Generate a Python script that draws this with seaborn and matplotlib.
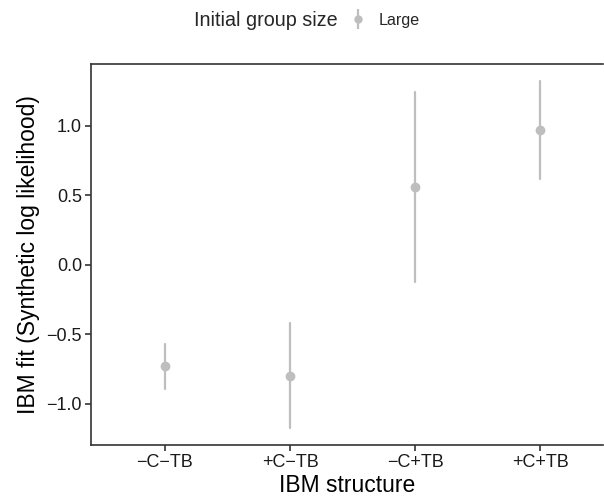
import numpy as np
import pandas as pd
import matplotlib
matplotlib.use("Agg")
import matplotlib.pyplot as plt
import seaborn as sns
from matplotlib.lines import Line2D
from matplotlib.legend_handler import HandlerTuple

structures = ["\u2212C\u2212TB", "+C\u2212TB", "\u2212C+TB", "+C+TB"]
estimate = [-0.73, -0.80, 0.56, 0.97]
lower = [-0.895, -1.17, -0.12, 0.62]
upper = [-0.57, -0.42, 1.245, 1.325]
group_label = "Large"

sns.set_theme(style="ticks")
plt.rcParams["font.family"] = ["Liberation Sans", "DejaVu Sans"]

rows = []
for s, lo, e, hi in zip(structures, lower, estimate, upper):
    for v in (lo, e, hi):
        rows.append({"structure": s, "value": v, "group": group_label})
df = pd.DataFrame(rows)

gray = "#BEBEBE"
fig = plt.figure(figsize=(6.04, 4.97), dpi=100)
ax = fig.add_axes([91/604, 52/497, 512/604, 381/497])

sns.pointplot(data=df, x="structure", y="value", order=structures,
              estimator="median", errorbar=lambda x: (np.min(x), np.max(x)),
              linestyle="none", color=gray, markers="o", markersize=5,
              err_kws={"linewidth": 1.6}, ax=ax)

ax.set_xlim(-0.59, 3.5)
ax.set_ylim(-1.295, 1.446)
ax.set_yticks([-1.0, -0.5, 0.0, 0.5, 1.0])
ax.set_yticklabels(["\u22121.0", "\u22120.5", "0.0", "0.5", "1.0"])
ax.set_xlabel("IBM structure", fontsize=16.5, color="black", labelpad=2)
ax.set_ylabel("IBM fit (Synthetic log likelihood)", fontsize=16.5, color="black", labelpad=5)
for axis in (ax.xaxis, ax.yaxis):
    axis.set_tick_params(which="major", labelsize=13, labelcolor="#1a1a1a",
                         color="#333333", size=4, width=1.2,
                         direction="out", pad=2.5)
for side in ["left", "bottom", "top", "right"]:
    ax.spines[side].set_visible(True)
    ax.spines[side].set_color("#333333")
    ax.spines[side].set_linewidth(1.2)
ax.spines["right"].set_visible(False)

fig.text(266/604, 1 - 20/497, "Initial group size", fontsize=14.2, ha="center", va="center")
handle = (Line2D([], [], marker="|", markersize=14, markeredgewidth=1.6, color=gray, linestyle="none"),
          Line2D([], [], marker="o", markersize=5, color=gray, linestyle="none"))
fig.legend([handle], [group_label], loc="center left", bbox_to_anchor=(350/604, 1 - 20/497),
           frameon=False, fontsize=11.6, handlelength=1.0, handletextpad=0.8,
           handler_map={tuple: HandlerTuple(ndivide=1)}, borderpad=0, borderaxespad=0)

fig.savefig("out.png", dpi=100)
